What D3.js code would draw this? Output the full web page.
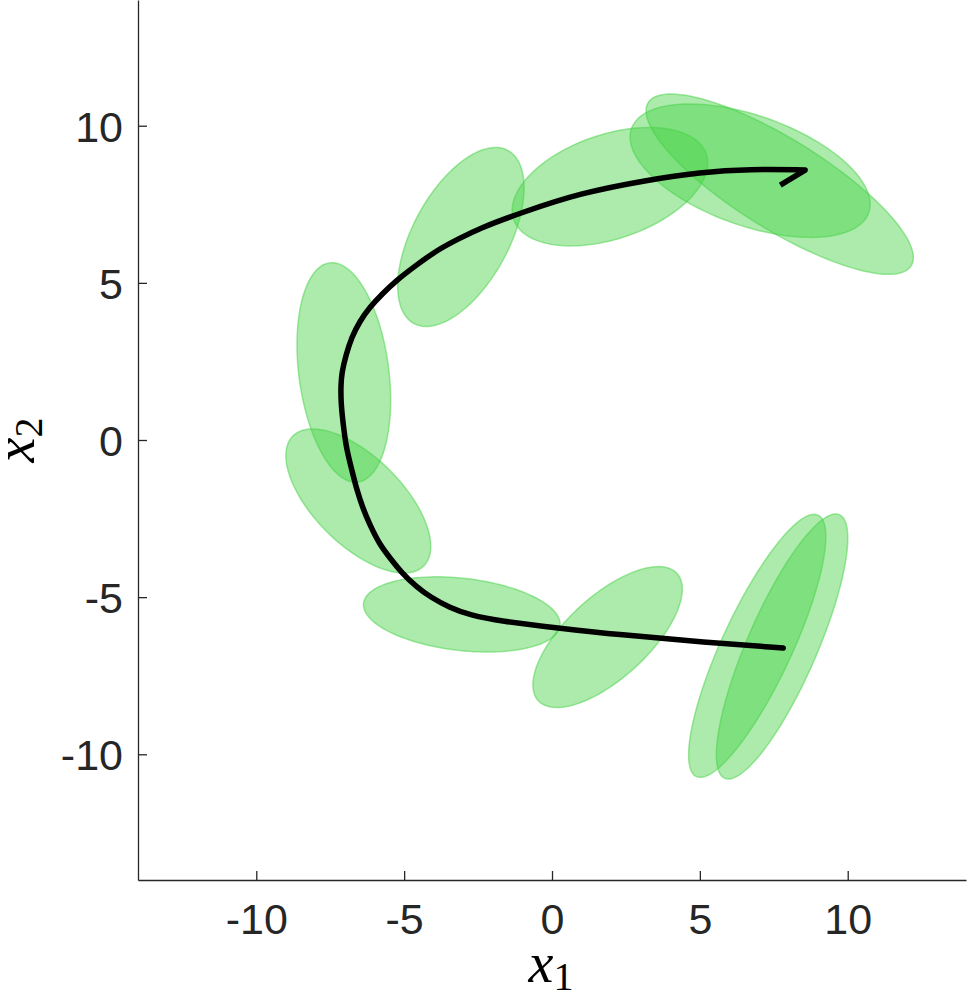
<!DOCTYPE html>
<html>
<head>
<meta charset="utf-8">
<script src="https://cdn.jsdelivr.net/npm/d3@7"></script>
<style>
  html, body { margin: 0; padding: 0; background: #fff; }
  svg { display: block; }
</style>
</head>
<body>
<div class="chart"></div>
<script>
// uncertainty ellipses (data units): centre, semi-axes, rotation in degrees
const ellCx    = [1.88, -3.05, -6.55, -7.04, -3.08, 1.96, 6.70, 7.70, 6.94, 7.78]
const ellCy    = [-6.27, -5.55, -1.94, 2.15, 6.46, 8.06, 8.57, 8.14, -6.55, -6.57]
const ellA     = [3.10, 3.34, 3.03, 3.52, 3.18, 3.42, 4.23, 5.15, 4.64, 4.62]
const ellB     = [1.34, 1.15, 1.44, 1.52, 1.60, 1.67, 1.76, 1.46, 1.17, 1.17]
const ellAngle = [40, -6, -42, 98, 59, 17, -18, -30, 63.5, 65]

// trajectory
const pathX = [7.82, 5.01, 2.30, 0.17, -1.76, -2.77, -3.45, -4.13, -4.57, -5.08, -5.48, -5.82, -6.16, -6.40, -6.60, -6.77, -6.94, -7.04, -7.14, -7.14, -7.11, -6.97, -6.77, -6.50, -6.16, -5.75, -5.25, -4.64, -3.89, -3.18, -2.44, -1.08, 0.95, 3.21, 5.01, 6.70, 8.56]
const pathY = [-6.62, -6.42, -6.20, -5.98, -5.76, -5.57, -5.34, -4.99, -4.68, -4.23, -3.75, -3.34, -2.70, -2.16, -1.59, -0.95, -0.32, 0.32, 1.18, 1.75, 2.13, 2.70, 3.28, 3.78, 4.23, 4.64, 5.09, 5.53, 6.04, 6.39, 6.74, 7.22, 7.86, 8.27, 8.52, 8.62, 8.59]
// arrow barb at the end of the trajectory
const barbX = [8.56, 7.72]
const barbY = [8.59, 8.11]

const xTicks = [-10, -5, 0, 5, 10]
const yTicks = [-10, -5, 0, 5, 10]

const width = 968
const height = 1002

const svg = d3.select(".chart").append("svg").attr("width", width).attr("height", height)

const xScale = d3.scaleLinear().domain([-14, 14]).range([138, 966])
const yScale = d3.scaleLinear().domain([-14, 14]).range([880, 0])

const line = d3.line().x(d => xScale(d[0])).y(d => yScale(d[1]))

// ellipses
const ellipsePoints = i => {
  const th = ellAngle[i] * Math.PI / 180
  return d3.range(0, 120).map(k => {
    const t = (k / 120) * 2 * Math.PI
    const u = ellA[i] * Math.cos(t)
    const v = ellB[i] * Math.sin(t)
    return [ellCx[i] + u * Math.cos(th) - v * Math.sin(th), ellCy[i] + u * Math.sin(th) + v * Math.cos(th)]
  })
}

svg
  .append("g")
  .selectAll("path")
  .data(d3.range(ellCx.length))
  .enter()
  .append("path")
  .attr("d", i => line.curve(d3.curveLinearClosed)(ellipsePoints(i)))
  .attr("fill", "rgb(70,210,70)")
  .attr("fill-opacity", 0.45)
  .attr("stroke", "rgb(70,210,70)")
  .attr("stroke-opacity", 0.5)
  .attr("stroke-width", 1.5)

// trajectory line
const traj = d3.zip(pathX, pathY)
svg
  .append("path")
  .attr("d", d3.line().x(d => xScale(d[0])).y(d => yScale(d[1])).curve(d3.curveBasis)(traj))
  .attr("fill", "none")
  .attr("stroke", "#000")
  .attr("stroke-width", 5.5)
  .attr("stroke-linecap", "round")
  .attr("stroke-linejoin", "round")

svg
  .append("path")
  .attr("d", d3.line().x(d => xScale(d[0])).y(d => yScale(d[1]))(d3.zip(barbX, barbY)))
  .attr("fill", "none")
  .attr("stroke", "#000")
  .attr("stroke-width", 5.5)
  .attr("stroke-linecap", "butt")

// axes
const xAxis = d3.axisBottom(xScale).tickValues(xTicks).tickSizeInner(-9).tickSizeOuter(0).tickPadding(23).tickFormat(d => String(d))
const yAxis = d3.axisLeft(yScale).tickValues(yTicks).tickSizeInner(-9).tickSizeOuter(0).tickPadding(15).tickFormat(d => String(d))

const xAxisGroup = svg.append("g").attr("transform", `translate(0, ${yScale(-14)})`).call(xAxis)
const yAxisGroup = svg.append("g").attr("transform", `translate(${xScale(-14)}, 0)`).call(yAxis)

;[xAxisGroup, yAxisGroup].forEach(g => {
  g.select(".domain").attr("stroke", "#262626").attr("stroke-width", 1.3)
  g.selectAll(".tick line").attr("stroke", "#262626").attr("stroke-width", 1.3)
  g.selectAll(".tick text")
    .attr("fill", "#262626")
    .style("font-family", "'Liberation Sans', Arial, sans-serif")
    .style("font-size", "43px")
})
yAxisGroup.selectAll(".tick text").attr("dy", "0.36em")

// axis labels
const xLabel = svg
  .append("text")
  .attr("x", 551)
  .attr("y", 982)
  .attr("text-anchor", "middle")
  .style("font-family", "'Liberation Serif', 'Times New Roman', serif")
  .style("font-size", "56px")
  .attr("fill", "#000")
xLabel.append("tspan").style("font-style", "italic").text("x")
xLabel.append("tspan").attr("dy", 8).style("font-size", "40px").text("1")

const yLabel = svg
  .append("text")
  .attr("transform", `translate(34, 440) rotate(-90)`)
  .attr("text-anchor", "middle")
  .style("font-family", "'Liberation Serif', 'Times New Roman', serif")
  .style("font-size", "56px")
  .attr("fill", "#000")
yLabel.append("tspan").style("font-style", "italic").text("x")
yLabel.append("tspan").attr("dy", 8).style("font-size", "40px").text("2")
</script>
</body>
</html>
